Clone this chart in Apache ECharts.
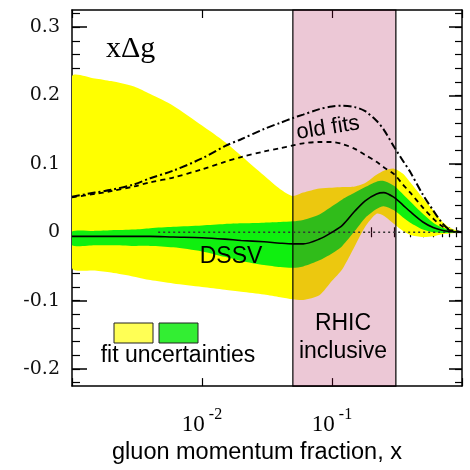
<!DOCTYPE html>
<html>
<head>
<meta charset="utf-8">
<script src="https://cdn.jsdelivr.net/npm/echarts@6/dist/echarts.min.js"></script>
<style>html,body{margin:0;padding:0;background:#fff;}#c{width:470px;height:470px;}</style>
</head>
<body>
<div id="c"></div>
<script>
// ---- data ----
const xs = [0.001, 0.0015, 0.002, 0.003, 0.004, 0.006, 0.01, 0.015, 0.02, 0.03, 0.04, 0.05, 0.06, 0.08, 0.1, 0.12, 0.15, 0.18, 0.22, 0.25, 0.3, 0.35, 0.4, 0.5, 0.6, 0.7, 0.8, 1.0];
const yellowUpper = [0.228,0.225,0.221,0.213,0.202,0.185,0.156,0.132,0.112,0.083,0.063,0.053,0.058,0.064,0.065,0.066,0.067,0.072,0.084,0.090,0.093,0.086,0.073,0.050,0.032,0.016,0.007,0.0];
const yellowLower = [-0.052,-0.056,-0.059,-0.065,-0.070,-0.075,-0.080,-0.084,-0.087,-0.091,-0.095,-0.098,-0.099,-0.092,-0.071,-0.054,-0.020,0.008,0.027,0.024,0.012,0.002,-0.004,-0.007,-0.006,-0.003,-0.002,0.0];
const greenUpper = [0.001,0.002,0.003,0.004,0.006,0.008,0.010,0.012,0.013,0.014,0.015,0.016,0.018,0.026,0.038,0.048,0.058,0.066,0.074,0.075,0.068,0.056,0.045,0.027,0.014,0.007,0.004,0.0];
const greenLower = [-0.019,-0.019,-0.019,-0.020,-0.020,-0.022,-0.028,-0.036,-0.042,-0.048,-0.051,-0.052,-0.050,-0.041,-0.031,-0.020,0.002,0.021,0.034,0.038,0.032,0.022,0.014,0.004,0.000,-0.001,-0.001,0.0];
const dssv = [-0.006,-0.006,-0.006,-0.006,-0.006,-0.007,-0.008,-0.010,-0.012,-0.014,-0.016,-0.017,-0.017,-0.010,0.000,0.010,0.031,0.046,0.056,0.058,0.051,0.040,0.030,0.015,0.007,0.003,0.001,0.0];
const oldFitDashDot = [0.052,0.058,0.062,0.070,0.079,0.090,0.108,0.126,0.136,0.151,0.160,0.167,0.172,0.180,0.184,0.185,0.183,0.177,0.163,0.150,0.125,0.105,0.088,0.055,0.032,0.014,0.004,0.0];
const oldFitDashed = [0.051,0.056,0.060,0.067,0.073,0.080,0.092,0.103,0.110,0.118,0.123,0.127,0.130,0.132,0.132,0.129,0.122,0.113,0.103,0.095,0.085,0.070,0.058,0.036,0.020,0.009,0.003,0.0];
const zeroLineX = [0.0046, 1.0];
const rhicRange = [0.05, 0.31];
const xTickLabels = [0.01, 0.1];
const xTickExponents = ['-2', '-1'];
const yTickValues = [-0.2, -0.1, 0, 0.1, 0.2, 0.3];
const yTickLabels = ['-0.2', '-0.1', '0', '0.1', '0.2', '0.3'];
const xMin = 0.001, xMax = 1.0, yMin = -0.225, yMax = 0.325;

// ---- axis tick helpers ----
const xMajorTicks = [0.001, 0.01, 0.1, 1];
const xMinorTicks = [];
for (let e = -3; e <= -1; e++) for (let k = 2; k <= 9; k++) xMinorTicks.push(+(k * Math.pow(10, e)).toPrecision(3));
const yMinorTicks = [];
for (let i = -11; i <= 16; i++) yMinorTicks.push(+(i * 0.02).toFixed(2));

const pair = (arr) => xs.map((x, i) => [x, arr[i]]);

// band drawn as one polygon through the axes' own coordinate mapping
function bandSeries(name, upper, lower, color, z) {
  return {
    type: 'custom', name: name, z: z, silent: true, clip: true,
    data: xs.map((x, i) => [x, lower[i], upper[i]]),
    encode: {x: 0, y: [1, 2]},
    renderItem: function (params, api) {
      if (params.dataIndex !== 0) return null;
      const pts = [];
      for (let i = 0; i < xs.length; i++) pts.push(api.coord([xs[i], upper[i]]));
      for (let i = xs.length - 1; i >= 0; i--) pts.push(api.coord([xs[i], lower[i]]));
      return {type: 'polygon', shape: {points: pts, smooth: 0.25}, style: {fill: color, stroke: null}};
    }
  };
}

const chart = echarts.init(document.getElementById('c'), null, {renderer: 'canvas'});
const black = '#000';
const baseX = {type: 'log', logBase: 10, min: xMin, max: xMax, splitLine: {show: false}};
const baseY = {type: 'value', min: yMin, max: yMax, splitLine: {show: false}};
const sansFont = "'Liberation Sans', Arial, sans-serif";
const serifFont = "'Liberation Serif', 'Times New Roman', serif";
const wideSerifFont = "'DejaVu Serif', 'Liberation Serif', serif";

const option = {
  animation: false,
  grid: {left: 72, right: 8, top: 10, bottom: 72, containLabel: false},
  xAxis: [
    Object.assign({}, baseX, {
      position: 'bottom',
      axisLine: {show: true, onZero: false, lineStyle: {color: black, width: 1.5}},
      axisTick: {show: true, inside: true, length: 8, customValues: xMajorTicks, lineStyle: {color: black, width: 1.2}},
      axisLabel: {
        show: true, customValues: xTickLabels, margin: 21,
        formatter: (v) => { const i = xTickLabels.findIndex(t => Math.abs(t - v) / t < 1e-6); return '{b|10}{s|' + (i >= 0 ? xTickExponents[i] : '') + '}'; },
        rich: {
          b: {fontFamily: serifFont, fontSize: 23, color: black, verticalAlign: 'bottom'},
          s: {fontFamily: serifFont, fontSize: 16, color: black, verticalAlign: 'bottom', padding: [0, 0, 13, 4]}
        }
      },
      name: 'gluon momentum fraction, x', nameLocation: 'middle', nameGap: 53,
      nameTextStyle: {fontFamily: sansFont, fontSize: 23.5, color: black, padding: [0, 20, 0, 0]}
    }),
    Object.assign({}, baseX, {position: 'bottom', axisLine: {show: false},
      axisTick: {show: true, inside: true, length: 5, customValues: xMinorTicks, lineStyle: {color: black, width: 1.2}}, axisLabel: {show: false}}),
    Object.assign({}, baseX, {position: 'top', axisLine: {show: true, onZero: false, lineStyle: {color: black, width: 1.5}},
      axisTick: {show: true, inside: true, length: 8, customValues: xMajorTicks, lineStyle: {color: black, width: 1.2}}, axisLabel: {show: false}}),
    Object.assign({}, baseX, {position: 'top', axisLine: {show: false},
      axisTick: {show: true, inside: true, length: 5, customValues: xMinorTicks, lineStyle: {color: black, width: 1.2}}, axisLabel: {show: false}})
  ],
  yAxis: [
    Object.assign({}, baseY, {
      position: 'left',
      axisLine: {show: true, onZero: false, lineStyle: {color: black, width: 1.5}},
      axisTick: {show: true, inside: true, length: 15, customValues: yTickValues, lineStyle: {color: black, width: 1.5}},
      axisLabel: {show: true, customValues: yTickValues, margin: 12, fontFamily: wideSerifFont, fontSize: 19, color: '#111',
        formatter: (v) => { const i = yTickValues.findIndex(t => Math.abs(t - v) < 1e-6); return i >= 0 ? yTickLabels[i] : ''; }}
    }),
    Object.assign({}, baseY, {position: 'left', axisLine: {show: false},
      axisTick: {show: true, inside: true, length: 8, customValues: yMinorTicks, lineStyle: {color: black, width: 1.2}}, axisLabel: {show: false}}),
    Object.assign({}, baseY, {position: 'right', axisLine: {show: true, onZero: false, lineStyle: {color: black, width: 1.5}},
      axisTick: {show: true, inside: true, length: 13, customValues: yTickValues, lineStyle: {color: black, width: 1.5}}, axisLabel: {show: false}}),
    Object.assign({}, baseY, {position: 'right', axisLine: {show: false},
      axisTick: {show: true, inside: true, length: 7, customValues: yMinorTicks, lineStyle: {color: black, width: 1.2}}, axisLabel: {show: false}})
  ],
  series: [
    bandSeries('yellow band', yellowUpper, yellowLower, '#ffff00', 1),
    bandSeries('green band', greenUpper, greenLower, '#0ff00f', 2),
    {type: 'line', name: 'RHIC', data: [], z: 3, silent: true,
     markArea: {silent: true, z: 3, itemStyle: {color: 'rgba(168,5,68,0.22)', borderColor: black, borderWidth: 1.2},
       data: [[{xAxis: rhicRange[0]}, {xAxis: rhicRange[1]}]]}},
    {type: 'line', name: 'zero', data: zeroLineX.map(x => [x, 0]), symbol: 'none', z: 4, silent: true,
     lineStyle: {color: '#333', width: 1.5, type: [2, 3]}},
    {type: 'line', name: 'DSSV', data: pair(dssv), smooth: 0.3, symbol: 'none', z: 5, lineStyle: {color: black, width: 1.6}},
    {type: 'line', name: 'old fit 1', data: pair(oldFitDashDot), smooth: 0.3, symbol: 'none', z: 5, lineStyle: {color: black, width: 2, type: [8, 3, 2, 3]}},
    {type: 'line', name: 'old fit 2', data: pair(oldFitDashed), smooth: 0.3, symbol: 'none', z: 5, lineStyle: {color: black, width: 1.8, type: [5, 4]}}
  ],
  graphic: [
    {type: 'text', left: 106, top: 34, style: {text: 'xΔg', fontFamily: serifFont, fontSize: 30, fill: black}, z: 10},
    {type: 'text', x: 328, y: 128, rotation: 0.16, style: {text: 'old fits', fontFamily: sansFont, fontSize: 22, fill: black, align: 'center', verticalAlign: 'middle'}, z: 10},
    {type: 'text', x: 231, y: 257, style: {text: 'DSSV', fontFamily: sansFont, fontSize: 23, fill: black, align: 'center', verticalAlign: 'middle'}, z: 10},
    {type: 'text', x: 343, y: 324, style: {text: 'RHIC', fontFamily: sansFont, fontSize: 23, fill: black, align: 'center', verticalAlign: 'middle'}, z: 10},
    {type: 'text', x: 343, y: 352, style: {text: 'inclusive', fontFamily: sansFont, fontSize: 23, fill: black, align: 'center', verticalAlign: 'middle'}, z: 10},
    {type: 'rect', shape: {x: 114, y: 323, width: 39, height: 20}, style: {fill: '#ffff55', stroke: '#222', lineWidth: 1}, z: 10},
    {type: 'rect', shape: {x: 159, y: 323, width: 39, height: 20}, style: {fill: '#33ee33', stroke: '#222', lineWidth: 1}, z: 10},
    {type: 'text', x: 178, y: 356, style: {text: 'fit uncertainties', fontFamily: sansFont, fontSize: 23, fill: black, align: 'center', verticalAlign: 'middle'}, z: 10}
  ]
};
chart.setOption(option);
</script>
</body>
</html>
